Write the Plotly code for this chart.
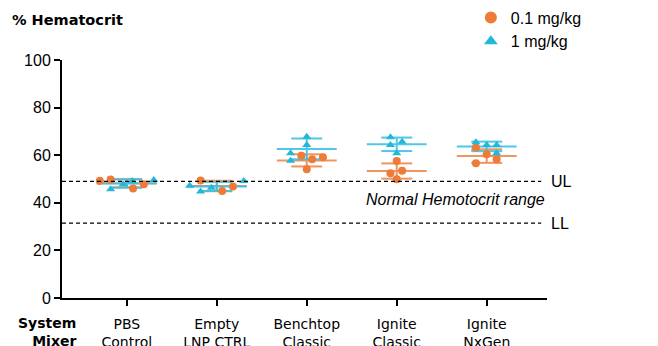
import numpy as np
import plotly.graph_objects as go

# ---------------- data ----------------
categories = ["PBS<br>Control", "Empty<br>LNP CTRL", "Benchtop<br>Classic",
              "Ignite<br>Classic", "Ignite<br>NxGen"]
series_names = ["0.1 mg/kg", "1 mg/kg"]
low_dose = [
    [49.3, 49.8, 46.0, 47.8],
    [49.4, 45.0, 46.8],
    [59.8, 58.3, 59.1, 54.1],
    [57.6, 52.4, 53.5, 49.9],
    [63.2, 60.4, 58.3, 56.6],
]
high_dose = [
    [45.7, 47.8, 49.2, 49.6],
    [47.2, 44.7, 46.3, 49.2],
    [67.8, 64.3, 60.8, 57.7],
    [67.5, 65.7, 64.3, 60.8],
    [65.4, 64.3, 64.3, 60.8],
]
upper_limit = 49.0
lower_limit = 31.5
y_ticks = [0, 20, 40, 60, 80, 100]

# ---------------- layout helpers (positions / styles) ----------------
jitter_low = [
    [-0.30, -0.18, 0.07, 0.19],
    [-0.18, 0.06, 0.18],
    [-0.06, 0.06, 0.18, 0.0],
    [0.0, -0.07, 0.06, 0.0],
    [-0.12, 0.0, 0.11, -0.12],
]
jitter_high = [
    [-0.18, -0.04, 0.06, 0.30],
    [-0.30, -0.18, -0.06, 0.30],
    [0.0, 0.0, -0.18, -0.18],
    [-0.07, 0.06, -0.07, 0.0],
    [-0.12, 0.0, 0.11, 0.11],
]
ORANGE = "#EE7B38"
CYAN = "#22B8DA"
ORANGE_LINE = "#F08A4E"
CYAN_LINE = "#3CC2E4"
MEAN_HALF = 0.333
SD_HALF = 0.172

fig = go.Figure()


def errbar_trace(groups, color):
    xs, ys = [], []
    for i, vals in enumerate(groups):
        m = float(np.mean(vals))
        s = float(np.std(vals, ddof=1))
        xs += [i - MEAN_HALF, i + MEAN_HALF, None]
        ys += [m, m, None]
        xs += [i - SD_HALF, i + SD_HALF, None, i - SD_HALF, i + SD_HALF, None]
        ys += [m + s, m + s, None, m - s, m - s, None]
        xs += [i, i, None]
        ys += [m - s, m + s, None]
    return go.Scatter(x=xs, y=ys, mode="lines", line=dict(color=color, width=2),
                      opacity=0.9, showlegend=False, hoverinfo="skip")


fig.add_trace(errbar_trace(low_dose, ORANGE_LINE))
fig.add_trace(errbar_trace(high_dose, CYAN_LINE))

for groups, jit, name, color, sym in [
    (low_dose, jitter_low, series_names[0], ORANGE, "circle"),
    (high_dose, jitter_high, series_names[1], CYAN, "triangle-up"),
]:
    xs, ys = [], []
    for i, vals in enumerate(groups):
        for v, j in zip(vals, jit[i]):
            xs.append(i + j)
            ys.append(v)
    fig.add_trace(go.Scatter(x=xs, y=ys, mode="markers", name=name,
                             marker=dict(color=color, symbol=sym, size=8,
                                         line=dict(width=0))))

# limit lines
for val in [upper_limit, lower_limit]:
    fig.add_shape(type="line", xref="paper", yref="y", x0=0, x1=0.988,
                  y0=val, y1=val, line=dict(color="black", width=1.3, dash="4px,3px"))

fig.add_annotation(xref="paper", yref="y", x=1.0, y=upper_limit, xshift=2,
                   text="UL", showarrow=False, xanchor="left", yanchor="middle",
                   font=dict(family="Liberation Sans", size=16, color="black"))
fig.add_annotation(xref="paper", yref="y", x=1.0, y=lower_limit, xshift=2,
                   text="LL", showarrow=False, xanchor="left", yanchor="middle",
                   font=dict(family="Liberation Sans", size=16, color="black"))
fig.add_annotation(xref="paper", yref="y", x=1.0, y=(upper_limit + lower_limit) / 2 + 1,
                   text="<i>Normal Hemotocrit range</i>", showarrow=False,
                   xanchor="right", yanchor="middle",
                   font=dict(family="Liberation Sans", size=16, color="black"))
fig.add_annotation(xref="paper", yref="paper", x=-0.108, y=1.168,
                   text="<b>% Hematocrit</b>", showarrow=False,
                   xanchor="left", yanchor="middle",
                   font=dict(family="DejaVu Sans", size=14.5, color="black"))
fig.add_annotation(xref="paper", yref="y", x=0.033, y=0, yshift=-15,
                   text="<b>System<br>Mixer</b>", showarrow=False,
                   xanchor="right", yanchor="top", align="right",
                   font=dict(family="DejaVu Sans", size=14, color="black"))

fig.update_layout(
    width=658, height=346,
    margin=dict(l=62, r=111, t=60, b=48, autoexpand=False),
    paper_bgcolor="white", plot_bgcolor="white",
    font=dict(family="Liberation Sans", size=16, color="black"),
    legend=dict(x=0.843, y=1.25, xanchor="left", yanchor="top",
                font=dict(family="Liberation Sans", size=16),
                bgcolor="rgba(0,0,0,0)", tracegroupgap=0, itemsizing="constant"),
    xaxis=dict(range=[-0.72, 4.67], tickmode="array",
               tickvals=list(range(len(categories))), ticktext=categories,
               showline=True, linecolor="black", linewidth=2,
               ticks="outside", ticklen=6, tickcolor="black", tickwidth=1.5,
               showgrid=False, zeroline=False, automargin=False,
               ticklabelstandoff=6,
               tickfont=dict(family="DejaVu Sans", size=14)),
    yaxis=dict(range=[0, 100], tickmode="array", tickvals=y_ticks,
               showline=True, linecolor="black", linewidth=2,
               ticks="outside", ticklen=6, tickcolor="black", tickwidth=1.5,
               showgrid=False, zeroline=False, automargin=False,
               tickfont=dict(family="Liberation Sans", size=16)),
)

fig.write_html("out.html")
